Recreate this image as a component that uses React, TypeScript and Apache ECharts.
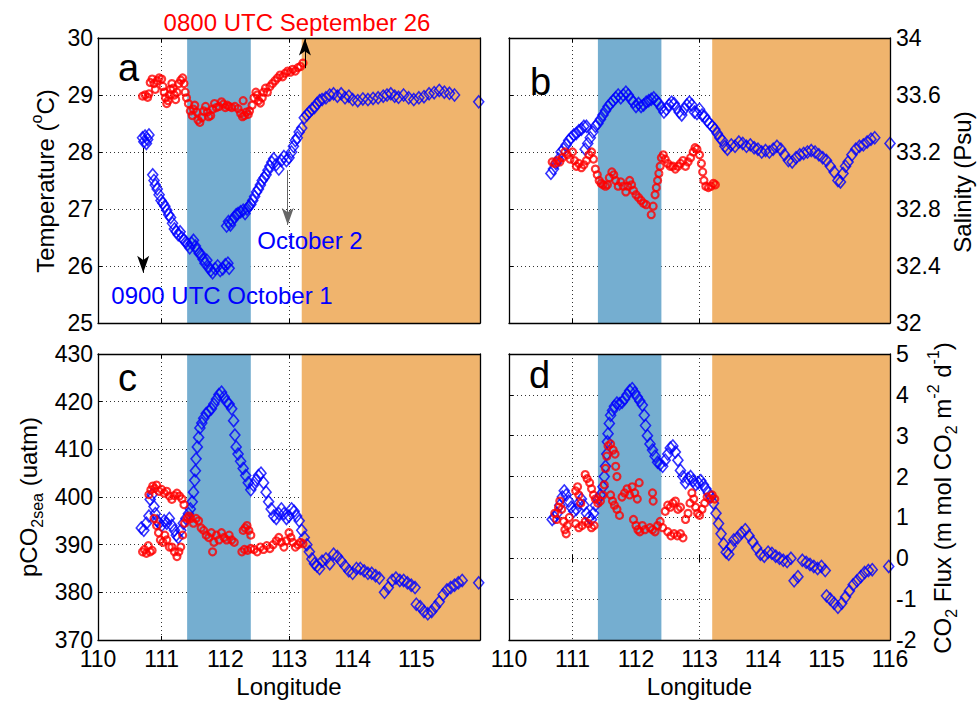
import React, { useEffect, useRef } from "react";
import * as echarts from "echarts";

// ---------- data ----------
const lonMin = 110;
const lonMax = 116;
const lonTicks = [110, 111, 112, 113, 114, 115, 116];
const coldBand = [111.4, 112.4];
const warmBand = [113.2, 116];

// [longitude, value]
const tempRed: number[][] = [
  [110.70, 28.98], [110.74, 29.0], [110.78, 28.96], [110.80, 29.02], [110.82, 29.22], [110.85, 29.28],
  [110.88, 29.2], [110.90, 29.1], [110.93, 29.25], [110.96, 29.3], [111.0, 29.28], [111.02, 29.15],
  [111.04, 29.05], [111.06, 28.95], [111.08, 28.85], [111.1, 28.9], [111.12, 29.0], [111.14, 29.1],
  [111.16, 29.2], [111.18, 29.12], [111.2, 29.0], [111.22, 28.92], [111.24, 29.05], [111.27, 29.2],
  [111.3, 29.26], [111.33, 29.3], [111.35, 29.2], [111.37, 29.05], [111.39, 28.95], [111.42, 28.85],
  [111.45, 28.72], [111.48, 28.64], [111.5, 28.75], [111.52, 28.82], [111.55, 28.7], [111.57, 28.56],
  [111.6, 28.52], [111.63, 28.6], [111.66, 28.72], [111.69, 28.8], [111.72, 28.7], [111.74, 28.62],
  [111.77, 28.64], [111.8, 28.75], [111.83, 28.85], [111.86, 28.78], [111.9, 28.8], [111.94, 28.88],
  [111.97, 28.84], [112.0, 28.78], [112.03, 28.82], [112.06, 28.8], [112.1, 28.78], [112.15, 28.8],
  [112.2, 28.76], [112.24, 28.68], [112.27, 28.62], [112.3, 28.64], [112.33, 28.7], [112.36, 28.66],
  [112.28, 28.9], [112.38, 28.72], [112.42, 28.82], [112.45, 28.95], [112.48, 29.05], [112.5, 29.0],
  [112.52, 28.9], [112.55, 28.86], [112.58, 28.95], [112.6, 29.05], [112.63, 29.12], [112.66, 29.05],
  [112.7, 29.15], [112.74, 29.2], [112.78, 29.25], [112.82, 29.3], [112.86, 29.35], [112.9, 29.32],
  [112.94, 29.38], [112.98, 29.42], [113.02, 29.4], [113.06, 29.45], [113.1, 29.42], [113.14, 29.48],
  [113.18, 29.5], [113.22, 29.56],
];
const tempBlue: number[][] = [
  [110.70, 28.25], [110.72, 28.18], [110.74, 28.28], [110.76, 28.15], [110.78, 28.22], [110.80, 28.3],
  [110.86, 27.6], [110.88, 27.5], [110.9, 27.42], [110.93, 27.35], [110.96, 27.25], [110.99, 27.15],
  [111.02, 27.1], [111.05, 27.05], [111.08, 26.98], [111.11, 26.9], [111.14, 26.85], [111.17, 26.75],
  [111.2, 26.65], [111.23, 26.6], [111.26, 26.55], [111.29, 26.6], [111.32, 26.5], [111.35, 26.45],
  [111.38, 26.42], [111.41, 26.38], [111.44, 26.32], [111.47, 26.4], [111.5, 26.45], [111.53, 26.35],
  [111.56, 26.28], [111.59, 26.22], [111.62, 26.2], [111.65, 26.12], [111.68, 26.05], [111.71, 26.1],
  [111.74, 25.98], [111.77, 25.92], [111.8, 25.88], [111.84, 25.95], [111.88, 26.0], [111.92, 25.92],
  [111.96, 25.95], [112.0, 26.02], [112.04, 26.05], [112.06, 25.96],
  [112.02, 26.7], [112.05, 26.78], [112.08, 26.72], [112.11, 26.8], [112.14, 26.85], [112.17, 26.9],
  [112.2, 26.92], [112.24, 26.95], [112.28, 26.98], [112.31, 26.92], [112.34, 27.0], [112.37, 27.05],
  [112.4, 27.08], [112.43, 27.15], [112.46, 27.22], [112.49, 27.3], [112.52, 27.35], [112.55, 27.42],
  [112.58, 27.5], [112.61, 27.55], [112.64, 27.6], [112.67, 27.68], [112.7, 27.75], [112.73, 27.82],
  [112.76, 27.88], [112.8, 27.78], [112.84, 27.7], [112.88, 27.85], [112.92, 27.92], [112.96, 27.85],
  [113.0, 27.9], [113.04, 28.0], [113.07, 28.1], [113.1, 28.2], [113.13, 28.25], [113.16, 28.35],
  [113.2, 28.42], [113.24, 28.6], [113.28, 28.65], [113.32, 28.7], [113.36, 28.75], [113.4, 28.78],
  [113.44, 28.85], [113.48, 28.9], [113.52, 28.92], [113.58, 28.95], [113.64, 29.0], [113.7, 29.02],
  [113.76, 28.98], [113.82, 29.02], [113.88, 28.95], [113.94, 28.98], [114.0, 28.92], [114.08, 28.9],
  [114.16, 28.93], [114.24, 28.92], [114.32, 28.94], [114.4, 28.95], [114.48, 28.98], [114.54, 29.0],
  [114.6, 29.02], [114.66, 28.98], [114.72, 28.96], [114.8, 29.0], [114.88, 28.95], [114.96, 28.92],
  [115.04, 28.95], [115.12, 28.97], [115.2, 29.02], [115.28, 29.04], [115.36, 29.08], [115.44, 29.05],
  [115.52, 29.03], [115.6, 29.0], [115.98, 28.88],
];
const salRed: number[][] = [
  [110.68, 33.13], [110.72, 33.12], [110.76, 33.14], [110.8, 33.13], [110.84, 33.16], [110.88, 33.2],
  [110.92, 33.18], [110.96, 33.15], [111.0, 33.2], [111.03, 33.14], [111.06, 33.1], [111.1, 33.12],
  [111.14, 33.09], [111.18, 33.11], [111.22, 33.14], [111.26, 33.18], [111.3, 33.2], [111.33, 33.15],
  [111.36, 33.08], [111.39, 33.04], [111.42, 33.0], [111.45, 32.98], [111.48, 32.97], [111.52, 32.96],
  [111.55, 32.97], [111.58, 33.02], [111.62, 33.06], [111.65, 33.04], [111.68, 33.0], [111.72, 32.96],
  [111.76, 32.99], [111.8, 32.96], [111.84, 32.92], [111.87, 32.96], [111.9, 33.0], [111.93, 32.97],
  [111.96, 32.93], [112.0, 32.9], [112.04, 32.88], [112.08, 32.86], [112.12, 32.84], [112.16, 32.83],
  [112.24, 32.76], [112.27, 32.82], [112.3, 32.9], [112.32, 32.95], [112.34, 33.0], [112.36, 33.05],
  [112.38, 33.1], [112.4, 33.16], [112.43, 33.18], [112.46, 33.15], [112.5, 33.12], [112.54, 33.1],
  [112.58, 33.1], [112.62, 33.08], [112.66, 33.1], [112.7, 33.12], [112.74, 33.14], [112.78, 33.1],
  [112.82, 33.13], [112.86, 33.16], [112.9, 33.2], [112.93, 33.23], [112.96, 33.22], [113.0, 33.18],
  [113.03, 33.12], [113.05, 33.06], [113.07, 33.0], [113.1, 32.96], [113.14, 32.95], [113.18, 32.96],
  [113.22, 32.98], [113.25, 32.97],
];
const salBlue: number[][] = [
  [110.66, 33.05], [110.7, 33.08], [110.74, 33.12], [110.78, 33.15], [110.82, 33.2], [110.86, 33.22],
  [110.9, 33.25], [110.94, 33.28], [110.98, 33.3], [111.02, 33.32], [111.06, 33.33], [111.1, 33.35],
  [111.14, 33.36], [111.18, 33.38], [111.22, 33.38],
  [111.2, 33.22], [111.24, 33.26], [111.28, 33.3], [111.32, 33.34], [111.36, 33.38], [111.4, 33.4],
  [111.44, 33.43], [111.48, 33.46], [111.52, 33.49], [111.56, 33.52], [111.6, 33.54], [111.64, 33.56],
  [111.68, 33.58], [111.72, 33.6], [111.76, 33.58], [111.8, 33.6], [111.84, 33.62], [111.88, 33.6],
  [111.92, 33.57], [111.96, 33.55], [112.0, 33.52], [112.04, 33.54], [112.08, 33.52], [112.12, 33.53],
  [112.16, 33.55], [112.2, 33.56], [112.24, 33.57], [112.28, 33.58], [112.32, 33.56], [112.36, 33.54],
  [112.4, 33.51], [112.44, 33.48], [112.48, 33.5], [112.52, 33.53], [112.56, 33.55], [112.6, 33.54],
  [112.64, 33.51], [112.68, 33.48], [112.72, 33.46], [112.76, 33.5], [112.8, 33.53], [112.84, 33.55],
  [112.88, 33.53], [112.92, 33.48], [112.96, 33.47], [113.0, 33.5], [113.04, 33.46], [113.08, 33.45],
  [113.12, 33.42], [113.16, 33.4], [113.2, 33.38], [113.24, 33.36], [113.28, 33.33], [113.32, 33.3],
  [113.36, 33.28], [113.4, 33.24], [113.44, 33.22], [113.5, 33.25], [113.56, 33.24], [113.62, 33.27],
  [113.68, 33.26], [113.74, 33.24], [113.8, 33.25], [113.86, 33.23], [113.92, 33.22], [113.98, 33.2],
  [114.04, 33.21], [114.1, 33.2], [114.16, 33.22], [114.22, 33.24], [114.28, 33.22], [114.34, 33.18],
  [114.4, 33.14], [114.46, 33.13], [114.52, 33.16], [114.58, 33.18], [114.64, 33.19], [114.7, 33.2],
  [114.76, 33.21], [114.82, 33.2], [114.88, 33.18], [114.94, 33.16], [115.0, 33.14], [115.06, 33.1],
  [115.12, 33.06], [115.18, 33.0], [115.22, 32.99], [115.26, 33.05], [115.3, 33.1], [115.34, 33.13],
  [115.4, 33.18], [115.46, 33.22], [115.52, 33.24], [115.58, 33.25], [115.64, 33.27], [115.7, 33.29],
  [115.76, 33.3], [116.0, 33.26],
];
const pco2Red: number[][] = [
  [110.7, 388.5], [110.73, 389], [110.76, 388.2], [110.79, 389.8], [110.82, 388.5], [110.85, 388.8],
  [110.8, 400.5], [110.83, 401.5], [110.86, 402.3], [110.89, 401.8], [110.92, 402.5], [110.96, 401.2],
  [111.0, 401.6], [111.04, 400.8], [111.08, 401.2], [111.12, 400.2], [111.16, 399.5], [111.2, 400.3],
  [111.24, 400.8], [111.28, 400.2], [111.32, 399.6], [111.35, 398.4],
  [110.88, 395.5], [110.92, 394], [110.95, 392.5], [110.98, 391], [111.02, 390.5], [111.05, 392],
  [111.08, 391], [111.12, 389.5], [111.16, 389.5], [111.2, 388.5], [111.24, 387.5], [111.27, 388.5],
  [111.3, 389.5], [111.33, 392], [111.36, 394.5], [111.4, 395.5], [111.43, 396], [111.46, 395.5],
  [111.5, 394.5], [111.54, 395.5], [111.58, 395], [111.62, 393.5], [111.66, 393], [111.7, 392],
  [111.74, 391.5], [111.78, 392.5], [111.82, 390.5], [111.86, 392], [111.9, 391], [111.94, 392.5],
  [111.98, 391.5], [112.02, 391], [112.06, 392], [112.1, 391], [112.14, 390.5], [111.8, 388.5],
  [112.26, 388.5], [112.28, 393], [112.31, 393.5], [112.34, 394], [112.37, 393], [112.4, 392],
  [112.3, 389], [112.35, 388.8], [112.4, 389.2], [112.45, 389], [112.5, 388.5], [112.55, 389.5],
  [112.6, 389], [112.65, 389.8], [112.7, 389.2], [112.75, 390], [112.8, 390.8], [112.84, 391.5],
  [112.88, 390.5], [112.92, 389.5], [112.96, 390.8], [113.0, 392.5], [113.03, 391.5], [113.06, 390.5],
  [113.1, 389.5], [113.14, 390], [113.18, 390.5], [113.22, 390.2],
];
const pco2Blue: number[][] = [
  [110.68, 393.5], [110.72, 393], [110.76, 394.5], [110.8, 396], [110.82, 399.5], [110.85, 400.5],
  [110.88, 398], [110.9, 396.5], [110.93, 395], [110.96, 394.5], [111.0, 394], [111.04, 395],
  [111.08, 394.5], [111.12, 395.5], [111.16, 394], [111.2, 393], [111.23, 392], [111.26, 391.5],
  [111.3, 393], [111.34, 394.5], [111.38, 395.5], [111.42, 396.5], [111.45, 397.5], [111.48, 399],
  [111.5, 401], [111.52, 403.5], [111.53, 405.5], [111.54, 408], [111.56, 410.5], [111.58, 412.5],
  [111.6, 414.5], [111.63, 415.5], [111.66, 416.5], [111.7, 417.5], [111.74, 418], [111.78, 418.5],
  [111.82, 419.5], [111.86, 420.5], [111.9, 421.5], [111.94, 422], [111.98, 421], [112.02, 420],
  [112.06, 419.5], [112.1, 418.5], [112.13, 416], [112.15, 413], [112.17, 410.5], [112.2, 409],
  [112.24, 407.5], [112.28, 406], [112.32, 404.5], [112.36, 403], [112.4, 401.5], [112.44, 402.5],
  [112.48, 403.5], [112.52, 404.5], [112.56, 405], [112.6, 403], [112.64, 401], [112.68, 399],
  [112.72, 397.5], [112.76, 396], [112.8, 395.5], [112.84, 396.5], [112.88, 397.5], [112.92, 396.5],
  [112.96, 395.5], [113.0, 396], [113.04, 397.5], [113.08, 397], [113.12, 396], [113.16, 395],
  [113.2, 393], [113.24, 391.5], [113.28, 390], [113.32, 388.5], [113.36, 387], [113.4, 386],
  [113.44, 385.5], [113.48, 385], [113.52, 386.5], [113.58, 387], [113.64, 386], [113.7, 388],
  [113.76, 387.5], [113.82, 386.5], [113.88, 385.5], [113.94, 384.5], [114.0, 384], [114.06, 385],
  [114.12, 385], [114.18, 384.5], [114.24, 384], [114.3, 384], [114.36, 383.5], [114.42, 383],
  [114.5, 380], [114.56, 381], [114.62, 382.5], [114.68, 383], [114.74, 382.5], [114.8, 382.5],
  [114.86, 382], [114.92, 381.5], [114.98, 381], [115.0, 377.5], [115.06, 377], [115.12, 376],
  [115.18, 375.5], [115.24, 376], [115.3, 377], [115.36, 378], [115.42, 379.5], [115.48, 380.5],
  [115.54, 381], [115.6, 381.5], [115.66, 382], [115.72, 382.5], [115.98, 382],
];
const fluxRed: number[][] = [
  [110.72, 1.1], [110.75, 0.95], [110.78, 1.25], [110.8, 1.4], [110.83, 1.2], [110.86, 0.9],
  [110.88, 0.7], [110.9, 0.6], [110.92, 0.8], [110.95, 1.0],
  [111.05, 1.65], [111.08, 1.75], [111.1, 1.55], [111.13, 1.35], [111.05, 0.85], [111.1, 0.75],
  [111.15, 0.8], [111.2, 0.9], [111.25, 0.85], [111.3, 0.75], [111.34, 0.8], [111.2, 2.05],
  [111.23, 1.95], [111.27, 1.85], [111.3, 1.7], [111.33, 1.55], [111.36, 1.45], [111.4, 1.35],
  [111.44, 1.4], [111.48, 1.55], [111.5, 1.8], [111.52, 2.2], [111.54, 2.5], [111.56, 2.75],
  [111.6, 2.8], [111.64, 2.65], [111.67, 2.55], [111.6, 1.55], [111.63, 1.4], [111.66, 1.3],
  [111.7, 1.2], [111.74, 1.05], [111.68, 2.25], [111.7, 2.0], [111.78, 1.5], [111.82, 1.6],
  [111.86, 1.7], [111.9, 1.55], [111.94, 1.75], [111.98, 1.6], [112.02, 1.45], [112.05, 1.85],
  [111.96, 0.95], [112.0, 0.8], [112.03, 0.7], [112.06, 0.65], [112.1, 0.8], [112.14, 0.7],
  [112.26, 1.6], [112.27, 1.4], [112.22, 0.75], [112.26, 0.7], [112.3, 0.65], [112.34, 0.8],
  [112.38, 0.9], [112.42, 0.75], [112.46, 1.15], [112.5, 1.3], [112.54, 1.25], [112.58, 1.35],
  [112.62, 1.4], [112.66, 1.2], [112.7, 1.25], [112.5, 0.65], [112.55, 0.55], [112.6, 0.6],
  [112.65, 0.55], [112.7, 0.6], [112.74, 0.5], [112.78, 0.95], [112.82, 1.1], [112.85, 1.35],
  [112.88, 1.6], [112.91, 1.45], [112.94, 1.25], [112.97, 1.1], [113.0, 1.05], [113.04, 1.2],
  [113.08, 1.35], [113.12, 1.5], [113.16, 1.45], [113.2, 1.55], [113.24, 1.45],
];
const fluxBlue: number[][] = [
  [110.68, 0.95], [110.72, 1.0], [110.76, 1.1], [110.8, 1.3], [110.84, 1.5], [110.87, 1.65],
  [110.9, 1.55], [110.94, 1.4], [110.98, 1.25], [111.02, 1.15], [111.06, 1.2], [111.1, 1.35],
  [111.14, 1.45], [111.18, 1.3], [111.22, 1.1], [111.26, 1.0], [111.3, 0.95], [111.33, 1.1],
  [111.36, 1.3], [111.4, 1.45], [111.44, 1.55], [111.48, 1.75], [111.5, 2.0], [111.52, 2.25],
  [111.54, 2.55], [111.55, 2.85], [111.56, 3.05], [111.58, 3.3], [111.6, 3.5], [111.63, 3.62],
  [111.66, 3.72], [111.7, 3.8], [111.74, 3.78], [111.78, 3.82], [111.82, 3.9], [111.86, 4.0],
  [111.9, 4.1], [111.94, 4.15], [111.98, 4.05], [112.02, 3.95], [112.06, 3.85], [112.1, 3.75],
  [112.13, 3.5], [112.15, 3.25], [112.18, 3.0], [112.22, 2.8], [112.26, 2.65], [112.3, 2.5],
  [112.34, 2.35], [112.38, 2.3], [112.42, 2.25], [112.46, 2.4], [112.5, 2.55], [112.54, 2.7],
  [112.58, 2.75], [112.62, 2.6], [112.66, 2.4], [112.7, 2.15], [112.74, 2.0], [112.78, 1.85],
  [112.82, 1.95], [112.86, 2.0], [112.9, 1.9], [112.94, 1.8], [112.98, 1.85], [113.02, 1.9],
  [113.06, 1.8], [113.1, 1.7], [113.14, 1.6], [113.18, 1.5], [113.22, 1.35], [113.26, 1.1],
  [113.3, 0.85], [113.34, 0.6], [113.38, 0.35], [113.42, 0.15], [113.46, 0.1], [113.5, 0.3],
  [113.54, 0.45], [113.6, 0.5], [113.66, 0.62], [113.72, 0.7], [113.78, 0.55], [113.84, 0.4],
  [113.9, 0.25], [113.96, 0.1], [114.02, 0.05], [114.08, 0.15], [114.14, 0.12], [114.2, 0.05],
  [114.26, 0.0], [114.32, -0.05], [114.38, -0.08], [114.44, 0.0], [114.49, -0.55], [114.55, -0.45],
  [114.62, -0.05], [114.68, -0.1], [114.74, -0.15], [114.8, -0.2], [114.86, -0.25], [114.92, -0.2],
  [114.98, -0.3], [115.0, -0.92], [115.06, -1.0], [115.12, -1.1], [115.18, -1.2], [115.24, -1.1],
  [115.3, -0.95], [115.36, -0.8], [115.42, -0.65], [115.48, -0.55], [115.54, -0.45], [115.6, -0.35],
  [115.66, -0.3], [115.72, -0.28], [115.98, -0.2],
];

// annotation arrows in panel a: [lon, from, to]
const arrowOct1 = [110.71, 28.07, 25.88];
const arrowOct2 = [112.98, 27.68, 26.72];
const arrowSep26 = [113.25, 29.47, 29.99];

// ---------- styling ----------
const FONT = "Arial, 'Liberation Sans', Helvetica, sans-serif";
const RED = "#ff0000";
const BLUE = "#0000ff";
const BAND_BLUE = "#75aed0";
const BAND_ORANGE = "#f0b46d";

const grids = [
  { left: 98, top: 38, width: 382, height: 285 },
  { left: 509, top: 38, width: 381, height: 285 },
  { left: 98, top: 354, width: 382, height: 286 },
  { left: 509, top: 354, width: 381, height: 286 },
];

const panels = [
  { yMin: 25, yMax: 30, yInt: 1, side: "left", xLabels: false, hideMax: false, red: tempRed, blue: tempBlue },
  { yMin: 32, yMax: 34, yInt: 0.4, side: "right", xLabels: false, hideMax: false, red: salRed, blue: salBlue },
  { yMin: 370, yMax: 430, yInt: 10, side: "left", xLabels: true, hideMax: true, red: pco2Red, blue: pco2Blue },
  { yMin: -2, yMax: 5, yInt: 1, side: "right", xLabels: true, hideMax: false, red: fluxRed, blue: fluxBlue },
];

function buildOption() {
  const xAxis: any[] = [];
  const yAxis: any[] = [];
  const series: any[] = [];
  const tickStyle = { show: true, inside: true, length: 4, lineStyle: { color: "#000", width: 1 } };
  const gridLine = { show: true, lineStyle: { type: [1, 3], color: "#333", width: 1 } };
  const frameLine = { show: true, onZero: false, lineStyle: { color: "#000", width: 1.3 } };

  panels.forEach((p, i) => {
    const xBase = { type: "value", gridIndex: i, min: lonMin, max: lonMax, interval: 1 };
    xAxis.push({
      ...xBase, position: "bottom", z: 0,
      axisLine: { show: false }, axisTick: tickStyle, splitLine: gridLine,
      axisLabel: {
        show: p.xLabels, margin: 7, fontSize: 23, color: "#000", fontFamily: FONT,
        showMinLabel: true, showMaxLabel: !p.hideMax,
        formatter: (v: number) => (lonTicks.includes(v) ? String(v) : ""),
      },
    });
    xAxis.push({ ...xBase, position: "top", z: 0, axisLine: { show: false }, axisTick: tickStyle, axisLabel: { show: false }, splitLine: { show: false } });
    xAxis.push({ ...xBase, position: "bottom", z: 10, axisLine: frameLine, axisTick: { show: false }, axisLabel: { show: false }, splitLine: { show: false } });
    xAxis.push({ ...xBase, position: "top", z: 10, axisLine: frameLine, axisTick: { show: false }, axisLabel: { show: false }, splitLine: { show: false } });

    const yBase = { type: "value", gridIndex: i, min: p.yMin, max: p.yMax, interval: p.yInt };
    const other = p.side === "left" ? "right" : "left";
    yAxis.push({
      ...yBase, position: p.side, z: 0,
      axisLine: { show: false }, axisTick: tickStyle, splitLine: gridLine,
      axisLabel: {
        show: true, margin: p.side === "left" ? 5 : 6, fontSize: 23, color: "#000", fontFamily: FONT,
        formatter: (v: number) => String(+v.toFixed(1)),
      },
    });
    yAxis.push({ ...yBase, position: other, z: 0, axisLine: { show: false }, axisTick: tickStyle, axisLabel: { show: false }, splitLine: { show: false } });
    yAxis.push({ ...yBase, position: "left", z: 10, axisLine: frameLine, axisTick: { show: false }, axisLabel: { show: false }, splitLine: { show: false } });
    yAxis.push({ ...yBase, position: "right", z: 10, axisLine: frameLine, axisTick: { show: false }, axisLabel: { show: false }, splitLine: { show: false } });

    const xi = 4 * i;
    const yi = 4 * i;
    const helper: any = {
      type: "scatter", xAxisIndex: xi, yAxisIndex: yi, z: 1, silent: true,
      data: [[lonMin, p.yMin]], symbolSize: 0,
      markArea: {
        silent: true,
        data: [
          [{ xAxis: coldBand[0], itemStyle: { color: BAND_BLUE } }, { xAxis: coldBand[1] }],
          [{ xAxis: warmBand[0], itemStyle: { color: BAND_ORANGE } }, { xAxis: warmBand[1] }],
        ],
      },
    };
    if (i === 0) {
      helper.markLine = {
        silent: true,
        symbol: ["none", "arrow"],
        symbolSize: [9, 17],
        label: { show: false },
        lineStyle: { color: "#000", width: 1, type: "solid" },
        data: [
          [{ coord: [arrowOct1[0], arrowOct1[1]] }, { coord: [arrowOct1[0], arrowOct1[2]] }],
          [{ coord: [arrowOct2[0], arrowOct2[1]], lineStyle: { color: "#666", width: 1, type: "solid" } }, { coord: [arrowOct2[0], arrowOct2[2]] }],
          [{ coord: [arrowSep26[0], arrowSep26[1]] }, { coord: [arrowSep26[0], arrowSep26[2]] }],
        ],
      };
    }
    series.push(helper);
    series.push({
      type: "scatter", xAxisIndex: xi, yAxisIndex: yi, z: 2, silent: true,
      symbol: "diamond", symbolSize: [10, 12], data: p.blue,
      itemStyle: { color: "rgba(0,0,0,0)", borderColor: BLUE, borderWidth: 1.6 },
    });
    series.push({
      type: "scatter", xAxisIndex: xi, yAxisIndex: yi, z: 3, silent: true,
      symbol: "circle", symbolSize: 7, data: p.red,
      itemStyle: { color: "rgba(0,0,0,0)", borderColor: RED, borderWidth: 2.2 },
    });
  });

  const txt = (x: number, y: number, text: string, extra: any = {}, rot = 0) => ({
    type: "text", x, y, rotation: rot, z: 100,
    style: {
      text, fill: "#000", fontSize: 24, fontFamily: FONT,
      align: "center", textAlign: "center", verticalAlign: "middle", textVerticalAlign: "middle",
      ...extra,
    },
  });
  const richTitle = {
    n: { fontSize: 24, fontFamily: FONT, fill: "#000", color: "#000", lineHeight: 34, verticalAlign: "middle" },
    sub: { fontSize: 16, fontFamily: FONT, fill: "#000", color: "#000", verticalAlign: "bottom" },
    sup: { fontSize: 16, fontFamily: FONT, fill: "#000", color: "#000", verticalAlign: "top" },
  };
  const R = Math.PI / 2;
  const graphics = [
    txt(118, 68, "a", { fontSize: 38, align: "left", textAlign: "left" }),
    txt(530, 82, "b", { fontSize: 38, align: "left", textAlign: "left" }),
    txt(118, 378, "c", { fontSize: 38, align: "left", textAlign: "left" }),
    txt(529, 375, "d", { fontSize: 38, align: "left", textAlign: "left" }),
    txt(297, 22, "0800 UTC September 26", { fill: RED }),
    txt(222, 295, "0900 UTC October 1", { fill: BLUE }),
    txt(310, 240, "October 2", { fill: BLUE }),
    txt(289, 686, "Longitude"),
    txt(699.5, 686, "Longitude"),
    txt(45, 181, "{n|Temperature (}{sup|o}{n|C)}", { rich: richTitle }, R),
    txt(962, 182, "Salinity (Psu)", {}, R),
    txt(28, 497, "{n|pCO}{sub|2sea}{n| (uatm)}", { rich: richTitle }, R),
    txt(942, 498, "{n|CO}{sub|2}{n| Flux (m mol CO}{sub|2}{n| m}{sup|-2}{n| d}{sup|-1}{n|)}", { rich: richTitle }, R),
  ];

  return {
    animation: false,
    backgroundColor: "#fff",
    grid: grids.map((g) => ({ ...g, containLabel: false, outerBoundsMode: "none" })),
    xAxis,
    yAxis,
    series,
    graphic: { elements: graphics },
  };
}

export default function App() {
  const ref = useRef<HTMLDivElement>(null);
  useEffect(() => {
    if (!ref.current) return;
    const chart = echarts.init(ref.current, null, { renderer: "svg" });
    chart.setOption(buildOption() as any);
    return () => chart.dispose();
  }, []);
  return (
    <div
      ref={ref}
      style={{ position: "absolute", left: 0, top: 0, width: 979, height: 701, background: "#fff" }}
    />
  );
}
